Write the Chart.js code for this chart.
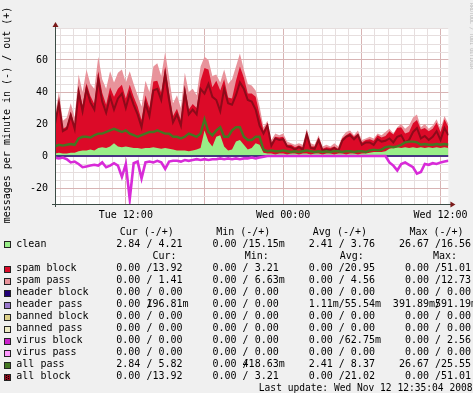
<!DOCTYPE html>
<html><head><meta charset="utf-8">
<script src="https://cdn.jsdelivr.net/npm/chart.js@4.4.1/dist/chart.umd.min.js"></script>
<style>html,body{margin:0;padding:0;background:#F0F0F0;overflow:hidden}canvas{display:block}</style>
</head><body>
<canvas id="c" width="473" height="393"></canvas>
<script>
// ---- sampling grid (hours since Tue 00:00) ----
const startHour = 6.6;   // Tue 06:36
const stepHours = 0.3;   // 18 min per sample
const endHour = 36.6;    // Wed 12:36

// ---- series (messages per minute) ----
const clean = [1.5,2,1.5,1.5,2,2, 3,3.5,3.5,4,3.5,
  5,5.5,5,6,8,6,5.5,6,5.5,5, 5,4.5,5,5,5.5,5,4.5,5,4.5,4,
  3.5,3.5,3.5,3,3.5,4,5, 16,9,6,12,13,6,3.5,4,9,10,7,4,5,8,7,2,
  1.5,1.5,1,1.5,1.5,1,1.5,1.5,1,1.5,1.5,1,1.5,1.5,1,1.5,1.5,1,1.5,1.5,1,1.5,1.5,1,1.5,1.5,2,
  2.5,2.5,2.5,3,4.5,5,5.5,5,5.5,5,5.5,5,5.5,5,5.5,5,5.5,5,5.5,5];
const spamBlock = [20,33,15.5,17,25.5,17,40,28,42,33.5,29,
  48,34,27,37,29,36,39,30,39,32,
  26,18,33,25,41,42,35,51,35,21,
  26,19,40,26,29,26,42,39,45,37,
  35,28,42,33,32,38,46,42,35,34,
  29,19,14,19,6.5,11,10,10.5,6,5.5,
  4,5.5,4,13.5,5,4.5,10,3.5,4,3.5,
  5,3,9.5,12,13,10.5,13,7,8.5,8.5,
  7,10.5,9,9.5,11,8.5,12,13,8.5,10,
  15,17.5,11,12.5,10,12,15.5,10,17.5,13];
const spamPass = [4.5,5,5,5.5,5.5,5,8,8.5,8.5,7.5,9.5,
  9,8.5,10,10,9,10,9.5,10,8.5,8,
  7,8.5,9,10,9.5,11,10.5,9,9.5,8,
  8.5,7.5,8.5,11,9.5,8,9,7,6,7,
  4,5,6,8.5,12,9,8,5,6,5,
  4,5,2,1.5,2,2,1.5,2,2,1,
  1.5,1.5,1.5,2,2,1,1.5,1.5,1.5,1,
  2,1.5,1,2,1.5,1,2,1.5,1,1.5,
  1.5,1,1.5,2.5,1.5,0.5,0.5,2,3,4,
  3.5,3.5,1.5,2.5,1.5,2,2,2,2,2];
const allPass = [6,7,6.5,7,7.5,7,11,12,12,11.5,13,
  14,14,15,16,17,16,15,16,14,13,
  12,13,14,15,15,16,15,14,14,12,
  12,11,12,14,13,12,14,23,15,13,
  16,18,12,12,16,18,18,12,10,10,
  12,12,4,3,3.5,3,3,3.5,3,2.5,
  3,2.5,3,3.5,3,2.5,3,2.5,3,2.5,
  3,3,2.5,3,3,2.5,3,3,2.5,3.5,
  4,3.5,4,5.5,6,5.5,6,7,8.5,9,
  9,8.5,7,7.5,7,7,7.5,7,7.5,7];
const allBlock = [20,33,15.5,17,25.5,17,40,28,42,33.5,29,
  48,34,27,37,29,36,39,30,39,32,
  26,18,33,25,41,42,35,51,35,21,
  26,19,40,26,29,26,42,39,45,37,
  35,28,42,33,32,38,46,42,35,34,
  29,19,14,19,6.5,11,10,10.5,6,5.5,
  4,5.5,4,13.5,5,4.5,10,3.5,4,3.5,
  5,3,9.5,12,13,10.5,13,7,8.5,8.5,
  7,10.5,9,9.5,11,8.5,12,13,8.5,10,
  15,17.5,11,12.5,10,12,15.5,10,17.5,13];
// "in" direction, drawn below zero
const cleanIn = [1,1.5,1,2,4,3.5,5,7,6.5,6,5.5,
  6,4,7,6,4.5,6,13,5,27,4.5,
  3.5,14,4,3.5,4,3,4,8,3.5,3,
  3,3.5,2.5,3,2.5,2,2.5,2,2.5,2,
  2,1.5,2,1.5,2,1.5,2,1.5,1.5,1,
  1.5,1,0.5,0,0,0,0,0,0,0,
  0,0,0,0,0,0,0,0,0,0,
  0,0,0,0,0,0,0,0,0,0,
  0,0,0,0,4,6,9,5,4,5.5,
  7,11,10,5,5.5,4.5,5,4,3.5,3,2.5];

// ---- axis ticks ----
const xTickHours = [12, 24, 36];
const xTickLabels = ['Tue 12:00', 'Wed 00:00', 'Wed 12:00'];
const yTickValues = [-20, 0, 20, 40, 60];

// ---- legend table ----
const legendLabels = ['clean','spam block','spam pass','header block','header pass','banned block','banned pass','virus block','virus pass','all pass','all block'];
const legendCur = [['2.84','4.21'],['0.00','13.92'],['0.00','1.41'],['0.00','0.00'],['0.00','196.81m'],['0.00','0.00'],['0.00','0.00'],['0.00','0.00'],['0.00','0.00'],['2.84','5.82'],['0.00','13.92']];
const legendMin = [['0.00','15.15m'],['0.00','3.21'],['0.00','6.63m'],['0.00','0.00'],['0.00','0.00'],['0.00','0.00'],['0.00','0.00'],['0.00','0.00'],['0.00','0.00'],['0.00','418.63m'],['0.00','3.21']];
const legendAvg = [['2.41','3.76'],['0.00','20.95'],['0.00','4.56'],['0.00','0.00'],['1.11m','55.54m'],['0.00','0.00'],['0.00','0.00'],['0.00','62.75m'],['0.00','0.00'],['2.41','8.37'],['0.00','21.02']];
const legendMax = [['26.67','16.56'],['0.00','51.01'],['0.00','12.73'],['0.00','0.00'],['391.89m','591.19m'],['0.00','0.00'],['0.00','0.00'],['0.00','2.56'],['0.00','0.00'],['26.67','25.55'],['0.00','51.01']];
const lastUpdate = 'Last update: Wed Nov 12 12:35:04 2008';
const yTitle = 'messages per minute in (-) / out (+)';

// ---- styles ----
const COL = {
  clean:'#99EE88', spamBlock:'#DC0A28', spamPass:'#E8939B', headerBlock:'#220077',
  headerPass:'#9977CC', bannedBlock:'#DDD088', bannedPass:'#EEEBC4', virusBlock:'#CC22CC',
  virusPass:'#FF99FF', allPass:'#447722', allBlock:'#8E0A1A', cleanIn:'#D82BD8'
};
const swatchColors = [COL.clean, COL.spamBlock, COL.spamPass, COL.headerBlock, COL.headerPass,
  COL.bannedBlock, COL.bannedPass, COL.virusBlock, COL.virusPass, COL.allPass, COL.allBlock];
const MONO = "'DejaVu Sans Mono', monospace";

const times = clean.map((_, i) => startHour + i * stepHours);
const pts = arr => arr.map((v, i) => ({x: times[i], y: v}));
const redTop = clean.map((v, i) => v + spamBlock[i]);
const pinkTop = redTop.map((v, i) => v + spamPass[i]);

const area = (label, data, color, order) => ({label, data: pts(data), backgroundColor: color,
  borderColor: 'rgba(0,0,0,0)', borderWidth: 0, fill: 'origin', pointRadius: 0, tension: 0, order});
const line = (label, data, color, w, order) => ({label, data, borderColor: color,
  borderWidth: w, fill: false, pointRadius: 0, tension: 0, order});

const deco = {
  id: 'deco',
  beforeDraw(chart) {
    const {ctx, chartArea: a} = chart;
    ctx.save();
    ctx.fillStyle = '#F0F0F0'; ctx.fillRect(0, 0, chart.width, chart.height);
    ctx.fillStyle = '#FFFFFF'; ctx.fillRect(a.left, a.top, a.right - a.left, a.bottom - a.top);
    ctx.restore();
  },
  afterDraw(chart) {
    const {ctx, chartArea: a} = chart;
    ctx.save();
    // axes
    ctx.strokeStyle = '#3A4A44'; ctx.lineWidth = 1;
    ctx.beginPath();
    ctx.moveTo(a.left + 0.5, a.bottom + 3); ctx.lineTo(a.left + 0.5, a.top - 4);
    ctx.moveTo(a.left - 3, a.bottom + 0.5); ctx.lineTo(a.right + 4, a.bottom + 0.5);
    ctx.stroke();
    ctx.fillStyle = '#7A1A1A';
    ctx.beginPath();
    ctx.moveTo(a.left + 0.5, a.top - 6); ctx.lineTo(a.left - 2.5, a.top - 1); ctx.lineTo(a.left + 3.5, a.top - 1); ctx.closePath();
    ctx.fill();
    ctx.beginPath();
    ctx.moveTo(a.right + 7, a.bottom + 0.5); ctx.lineTo(a.right + 2, a.bottom - 2.5); ctx.lineTo(a.right + 2, a.bottom + 3.5); ctx.closePath();
    ctx.fill();
    // y title
    ctx.fillStyle = '#000';
    ctx.font = '10px ' + MONO;
    ctx.save();
    ctx.translate(7, 115); ctx.rotate(-Math.PI / 2);
    ctx.textAlign = 'center'; ctx.textBaseline = 'middle';
    ctx.fillText(yTitle, 0, 0);
    ctx.restore();
    // watermark
    ctx.save();
    ctx.translate(471, 3); ctx.rotate(Math.PI / 2);
    ctx.fillStyle = '#B8B8B8'; ctx.font = '5px ' + MONO; ctx.textBaseline = 'middle'; ctx.textAlign = 'left';
    ctx.fillText('RRDTOOL / TOBI OETIKER', 0, 0);
    ctx.restore();
    // legend table
    ctx.fillStyle = '#000';
    ctx.font = '10px ' + MONO;
    ctx.textBaseline = 'middle';
    const cw = ctx.measureText('0').width;
    ctx.textAlign = 'left';
    const h1 = ['Cur (-/+)', 'Min (-/+)', 'Avg (-/+)', 'Max (-/+)'];
    const h1x = [119.7, 216.2, 312.8, 409.4];
    h1.forEach((t, k) => ctx.fillText(t, h1x[k], 232.2));
    const h2 = ['Cur:', 'Min:', 'Avg:', 'Max:'];
    const h2x = [152.4, 244.7, 339.7, 433.0];
    h2.forEach((t, k) => ctx.fillText(t, h2x[k], 256.6));
    const slashX = [146.4, 242.6, 338.8, 435.0];
    const cell = (sx, y, pair) => {
      const [inS, outS] = pair;
      ctx.textAlign = 'right';
      ctx.fillText(inS, inS.endsWith('m') ? sx : sx - cw, y);
      ctx.textAlign = 'left';
      ctx.fillText('/', sx, y);
      let num = outS, suf = '';
      if (outS.endsWith('m')) { num = outS.slice(0, -1); suf = 'm'; }
      ctx.textAlign = 'right';
      ctx.fillText(num, sx + 6 * cw, y);
      if (suf) { ctx.textAlign = 'left'; ctx.fillText(suf, sx + 6 * cw, y); }
    };
    legendLabels.forEach((name, r) => {
      const y = r === 0 ? 244.3 : 268.7 + (r - 1) * 12;
      const top = Math.round(y) - 3;
      ctx.fillStyle = swatchColors[r];
      ctx.fillRect(4, top, 7, 7);
      if (r === legendLabels.length - 1) {
        ctx.fillStyle = '#000';
        for (let dx = 0; dx < 7; dx += 2) for (let dy = (dx / 2) % 2; dy < 7; dy += 2) ctx.fillRect(4 + dx, top + dy, 1, 1);
      }
      ctx.strokeStyle = '#222'; ctx.lineWidth = 1;
      ctx.strokeRect(4.5, top + 0.5, 6, 6);
      ctx.fillStyle = '#000';
      ctx.textAlign = 'left';
      ctx.fillText(name, 16.3, y);
      cell(slashX[0], y, legendCur[r]);
      cell(slashX[1], y, legendMin[r]);
      cell(slashX[2], y, legendAvg[r]);
      cell(slashX[3], y, legendMax[r]);
    });
    ctx.font = '9.6px ' + MONO;
    ctx.textAlign = 'left';
    ctx.fillText(lastUpdate, 258.8, 388.4);
    ctx.restore();
  }
};

Chart.defaults.font.family = MONO;
Chart.defaults.font.size = 10;
Chart.defaults.color = '#000';

new Chart(document.getElementById('c'), {
  type: 'line',
  data: {
    datasets: [
      area('spam pass', pinkTop, COL.spamPass, 10),
      area('spam block', redTop, COL.spamBlock, 9),
      area('clean', clean, COL.clean, 8),
      line('all block', pts(allBlock), COL.allBlock, 2, 6),
      line('all pass', pts(allPass), COL.allPass, 2.4, 5),
      line('header block', [{x: startHour, y: 0}, {x: endHour, y: 0}], COL.headerBlock, 1.5, 4),
      line('clean in', pts(cleanIn.map(v => -v)), COL.cleanIn, 2.6, 3)
    ]
  },
  options: {
    responsive: false,
    animation: false,
    devicePixelRatio: 1,
    events: [],
    layout: {autoPadding: false, padding: {left: 0, right: 18, top: 28, bottom: 169}},
    plugins: {legend: {display: false}, tooltip: {enabled: false}},
    scales: {
      x: {
        type: 'linear', min: startHour, max: endHour,
        afterFit: s => { s.height = 20; },
        afterBuildTicks: s => { const t = []; for (let h = 7; h <= 36; h++) t.push({value: h}); s.ticks = t; },
        ticks: {autoSkip: false, maxRotation: 0, padding: 5, color: '#000',
          callback: v => { const k = xTickHours.indexOf(v); return k >= 0 ? xTickLabels[k] : ''; }},
        grid: {drawTicks: false, lineWidth: 1,
          color: c => (c.tick && c.tick.value % 6 === 0) ? '#D8B4B4' : '#E6DEDE'},
        border: {display: false}
      },
      y: {
        min: -30, max: 80,
        afterFit: s => { s.width = 55; },
        afterBuildTicks: s => { const t = []; for (let v = -30; v <= 80; v += 5) t.push({value: v}); s.ticks = t; },
        ticks: {autoSkip: false, padding: 7, color: '#000',
          callback: v => yTickValues.includes(v) ? String(v) : ''},
        grid: {drawTicks: false, lineWidth: 1,
          color: c => (c.tick && yTickValues.includes(c.tick.value)) ? '#D8B4B4' : '#E6DEDE'},
        border: {display: false}
      }
    }
  },
  plugins: [deco]
});
</script>
</body></html>
